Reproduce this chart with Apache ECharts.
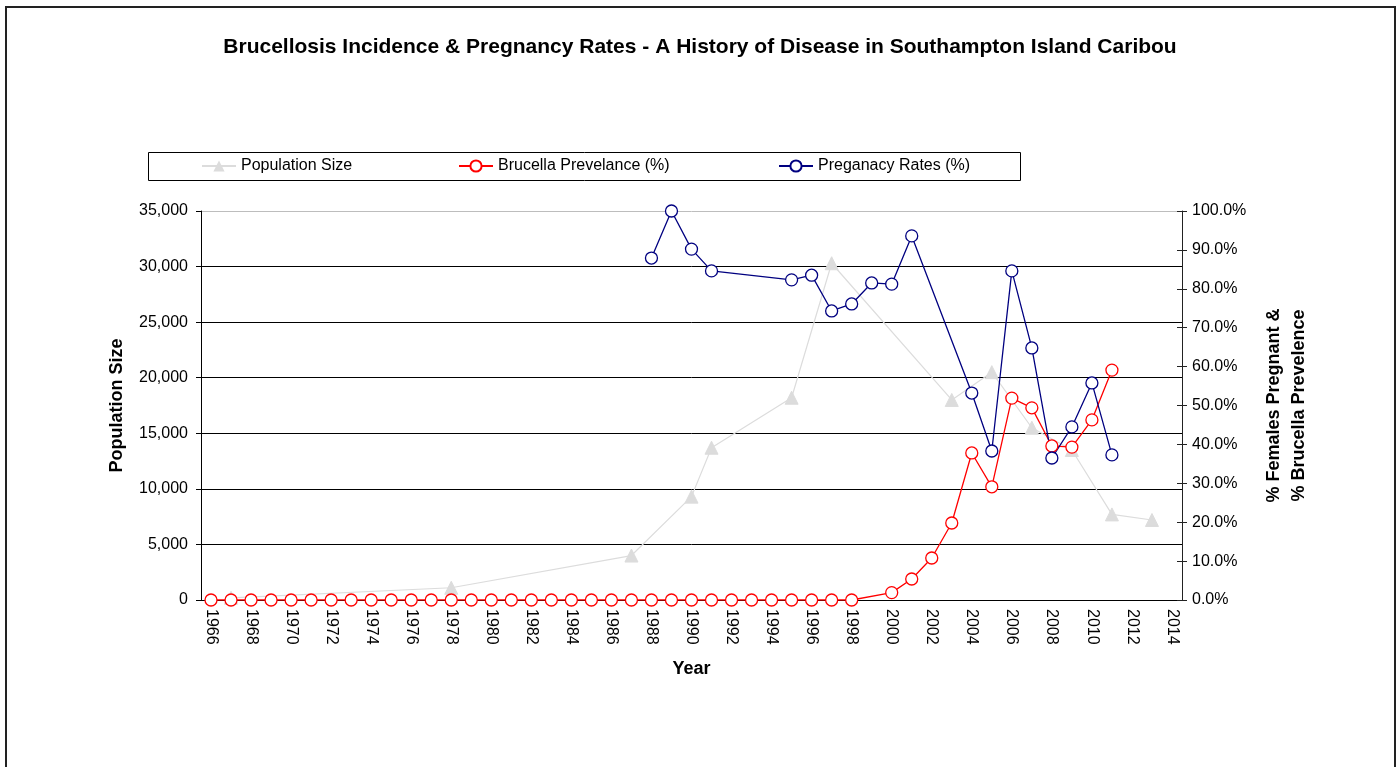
<!DOCTYPE html>
<html lang="en">
<head>
<meta charset="UTF-8">
<title>Brucellosis Incidence & Pregnancy Rates</title>
<script src="https://cdn.jsdelivr.net/npm/echarts@6/dist/echarts.min.js"></script>
<style>
  html, body { margin: 0; padding: 0; background: #fff; }
  #main { width: 1400px; height: 767px; }
</style>
</head>
<body>
<div id="main"></div>
<script>
// year categories on the x axis
var years = ['1966', '1967', '1968', '1969', '1970', '1971', '1972', '1973', '1974', '1975',
	'1976', '1977', '1978', '1979', '1980', '1981', '1982', '1983', '1984', '1985',
	'1986', '1987', '1988', '1989', '1990', '1991', '1992', '1993', '1994', '1995',
	'1996', '1997', '1998', '1999', '2000', '2001', '2002', '2003', '2004', '2005',
	'2006', '2007', '2008', '2009', '2010', '2011', '2012', '2013', '2014'];

// population size (left axis)
var popYears = ['1967', '1978', '1987', '1990', '1991', '1995', '1997', '2003', '2005', '2007', '2009', '2011', '2013'];
var popValues = [200, 1100, 4000, 9300, 13700, 18200, 30300, 18000, 20500, 15500, 13500, 7700, 7200];

// brucella prevalence (right axis, fraction)
var brucYears = ['1966', '1967', '1968', '1969', '1970', '1971', '1972', '1973', '1974', '1975',
	'1976', '1977', '1978', '1979', '1980', '1981', '1982', '1983', '1984', '1985',
	'1986', '1987', '1988', '1989', '1990', '1991', '1992', '1993', '1994', '1995',
	'1996', '1997', '1998', '2000', '2001', '2002', '2003', '2004', '2005', '2006',
	'2007', '2008', '2009', '2010', '2011'];
var brucValues = [0, 0, 0, 0, 0, 0, 0, 0, 0, 0,
	0, 0, 0, 0, 0, 0, 0, 0, 0, 0,
	0, 0, 0, 0, 0, 0, 0, 0, 0, 0,
	0, 0, 0, 0.019, 0.054, 0.108, 0.198, 0.378, 0.291, 0.519,
	0.494, 0.396, 0.393, 0.463, 0.591];

// pregnancy rates (right axis, fraction)
var pregYears = ['1988', '1989', '1990', '1991', '1995', '1996', '1997', '1998', '1999', '2000',
	'2001', '2004', '2005', '2006', '2007', '2008', '2009', '2010', '2011'];
var pregValues = [0.879, 1.0, 0.902, 0.846, 0.823, 0.835, 0.743, 0.761, 0.815, 0.812,
	0.936, 0.532, 0.383, 0.846, 0.648, 0.365, 0.445, 0.558, 0.373];

function pairs(xs, ys) {
	return xs.map(function (x, i) { return [x, ys[i]]; });
}

var font = 'Liberation Sans, Arial, sans-serif';
var chart = echarts.init(document.getElementById('main'));

var legendText = { fontFamily: font, fontSize: 16, color: '#000', lineHeight: 16 };

var option = {
	animation: false,
	backgroundColor: '#fff',
	textStyle: { fontFamily: font },
	title: {
		text: 'Brucellosis Incidence & Pregnancy Rates - A History of Disease in Southampton Island Caribou',
		left: 'center',
		top: 32,
		textStyle: { fontFamily: font, fontSize: 21, fontWeight: 'bold', color: '#000' }
	},
	graphic: [
		{ type: 'rect', shape: { x: 6, y: 7, width: 1389, height: 800 }, style: { fill: 'none', stroke: '#222', lineWidth: 2 }, silent: true },
		{ type: 'rect', shape: { x: 148.5, y: 152.5, width: 872, height: 28 }, style: { fill: '#fff', stroke: '#000', lineWidth: 1 }, silent: true }
	],
	legend: [
		{ data: ['Population Size'], left: 201, top: 158, padding: 0, itemWidth: 34, itemHeight: 14, textStyle: legendText },
		{ data: ['Brucella Prevelance (%)'], left: 458, top: 158, padding: 0, itemWidth: 34, itemHeight: 14, textStyle: legendText },
		{ data: ['Preganacy Rates (%)'], left: 778, top: 158, padding: 0, itemWidth: 34, itemHeight: 14, textStyle: legendText }
	],
	grid: { left: 201, right: 218, top: 211, bottom: 167 },
	xAxis: {
		type: 'category',
		data: years,
		boundaryGap: true,
		name: 'Year',
		nameLocation: 'middle',
		nameGap: 60,
		nameTextStyle: { fontFamily: font, fontSize: 18, fontWeight: 'bold', color: '#000' },
		axisLine: { lineStyle: { color: '#000', width: 1 } },
		axisTick: { interval: 1, length: 5, lineStyle: { color: '#000' } },
		axisLabel: { interval: 1, rotate: -90, margin: 9, fontSize: 16, color: '#000', fontFamily: font },
		splitLine: { show: false }
	},
	yAxis: [
		{
			type: 'value',
			min: 0,
			max: 35000,
			interval: 5000,
			name: 'Population Size',
			nameLocation: 'middle',
			nameGap: 75,
			nameTextStyle: { fontFamily: font, fontSize: 18, fontWeight: 'bold', color: '#000' },
			axisLine: { show: true, lineStyle: { color: '#000' } },
			axisTick: { show: true, length: 5, lineStyle: { color: '#000' } },
			axisLabel: { margin: 13, fontSize: 16, color: '#000', fontFamily: font },
			splitLine: { show: true, lineStyle: { color: ['#000', '#000', '#000', '#000', '#000', '#000', '#000', '#bdbdbd'], width: 1 } }
		},
		{
			type: 'value',
			position: 'right',
			min: 0,
			max: 1,
			interval: 0.1,
			name: '% Females Pregnant &\n% Brucella Prevelence',
			nameLocation: 'middle',
			nameRotate: 90,
			nameGap: 80,
			nameTextStyle: { fontFamily: font, fontSize: 18, fontWeight: 'bold', color: '#000', lineHeight: 25 },
			axisLine: { show: true, lineStyle: { color: '#222' } },
			axisTick: { show: true, length: 5, lineStyle: { color: '#222' } },
			axisLabel: {
				margin: 10, fontSize: 16, color: '#000', fontFamily: font,
				formatter: function (v) { return (v * 100).toFixed(1) + '%'; }
			},
			splitLine: { show: false }
		},
		{
			// inner half of the crossing ticks on the right axis
			type: 'value',
			position: 'right',
			min: 0,
			max: 1,
			interval: 0.1,
			axisLine: { show: false },
			axisTick: { show: true, inside: true, length: 5, lineStyle: { color: '#222' } },
			axisLabel: { show: false },
			splitLine: { show: false }
		}
	],
	series: [
		{
			name: 'Population Size',
			type: 'line',
			yAxisIndex: 0,
			data: pairs(popYears, popValues),
			symbol: 'triangle',
			symbolSize: 13,
			color: '#dcdcdc',
			lineStyle: { color: '#dcdcdc', width: 1.2 },
			itemStyle: { color: '#dcdcdc', borderColor: '#dcdcdc' }
		},
		{
			name: 'Brucella Prevelance (%)',
			type: 'line',
			yAxisIndex: 1,
			data: pairs(brucYears, brucValues),
			symbol: 'circle',
			symbolSize: 12,
			color: '#ff0000',
			lineStyle: { color: '#ff0000', width: 1.3 },
			itemStyle: { color: '#fff', borderColor: '#ff0000', borderWidth: 1.3 }
		},
		{
			name: 'Preganacy Rates (%)',
			type: 'line',
			yAxisIndex: 1,
			data: pairs(pregYears, pregValues),
			symbol: 'circle',
			symbolSize: 12,
			color: '#000080',
			lineStyle: { color: '#000080', width: 1.3 },
			itemStyle: { color: '#fff', borderColor: '#000080', borderWidth: 1.3 }
		}
	]
};

chart.setOption(option);
</script>
</body>
</html>
